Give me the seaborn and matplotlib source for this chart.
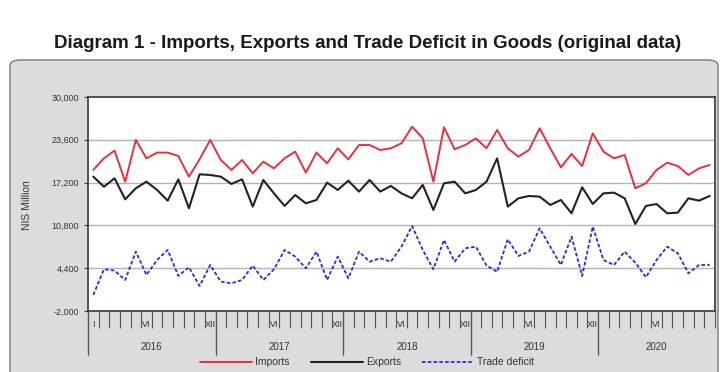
import numpy as np
import pandas as pd
import seaborn as sns
import matplotlib
matplotlib.use("Agg")
import matplotlib.pyplot as plt
from matplotlib.patches import FancyBboxPatch
from matplotlib.ticker import FuncFormatter
import matplotlib.transforms as mtransforms

# monthly data, Jan 2016 - Nov 2020 (NIS million)
imports = [19090, 20830, 21980, 17340, 23570, 20830, 21680, 21680, 21180, 18090, 20680, 23570,
           20580, 19090, 20580, 18590, 20330, 19330, 20830, 21830, 18690, 21680, 20080, 22330,
           20680, 22820, 22820, 22080, 22330, 23080, 25560, 23820, 17340, 25460, 22180, 22820,
           23820, 22330, 25070, 22330, 21080, 22080, 25320, 22330, 19480, 21480, 19680, 24570,
           21830, 20830, 21330, 16350, 17100, 19090, 20180, 19680, 18340, 19330, 19830]
exports = [18090, 16590, 17840, 14700, 16350, 17340, 16100, 14500, 17690, 13360, 18440, 18340,
           18090, 17000, 17690, 13610, 17590, 15590, 13710, 15350, 14100, 14600, 17200, 16100,
           17490, 15850, 17590, 15850, 16700, 15590, 14850, 16850, 13110, 17100, 17340, 15590,
           16100, 17340, 20830, 13610, 14850, 15200, 15100, 13860, 14600, 12610, 16500, 14000,
           15590, 15700, 14850, 11010, 13710, 14000, 12610, 12710, 14850, 14500, 15200]
deficit = [400, 4240, 4040, 2640, 6880, 3390, 5630, 7130, 3240, 4540, 1740, 4880,
           2390, 2140, 2640, 4800, 2640, 4240, 7130, 6130, 4390, 6880, 2640, 6130,
           2890, 6880, 5380, 5880, 5380, 7620, 10710, 7130, 4240, 8620, 5380, 7380,
           7620, 4800, 3850, 8720, 6230, 6880, 10370, 7620, 4880, 9120, 3240, 10620,
           5630, 4880, 6880, 5230, 3050, 5630, 7620, 6630, 3640, 4880, 4880]
years = ["2016", "2017", "2018", "2019", "2020"]
month_labels = {0: "I", 5: "VI", 11: "XII"}
y_ticks = [-2000, 4400, 10800, 17200, 23600, 30000]

df = pd.DataFrame({"month": np.arange(len(imports)), "Imports": imports,
                   "Exports": exports, "Trade deficit": deficit})

sns.set_style("white")
plt.rcParams['font.family'] = ['Liberation Sans', 'DejaVu Sans']

fig = plt.figure(figsize=(7.23, 3.72), dpi=100)

# grey rounded panel behind the chart
panel = FancyBboxPatch((10 / 723, -0.1), 708 / 723, 0.1 + (1 - 60 / 372),
                       boxstyle="round,pad=0,rounding_size=0.015",
                       transform=fig.transFigure, facecolor="#dcdcdc",
                       edgecolor="#8c8c8c", linewidth=1.2, zorder=-10)
fig.patches.append(panel)

fig.text(0.508, 1 - 43 / 372,
         "Diagram 1 - Imports, Exports and Trade Deficit in Goods (original data)",
         ha="center", va="center", fontsize=13.5, fontweight="bold", color="#1a1a1a")

ax = fig.add_axes([88 / 723, 1 - 311 / 372, 627 / 723, 214 / 372])
ax.set_facecolor("white")

sns.lineplot(data=df, x="month", y="Imports", ax=ax, color="#e8303c", linewidth=1.4, label="Imports")
sns.lineplot(data=df, x="month", y="Exports", ax=ax, color="#222222", linewidth=1.5, label="Exports")
sns.lineplot(data=df, x="month", y="Trade deficit", ax=ax, color="#2a2ae0", linewidth=1.3,
             linestyle=(0, (2, 1.2)), label="Trade deficit")

ax.set_xlim(-0.5, len(imports) - 0.5)
ax.set_ylim(-2000, 30000)
ax.set_yticks(y_ticks)
ax.yaxis.set_major_formatter(FuncFormatter(lambda v, _: f"{v:,.0f}"))
ax.tick_params(axis="y", labelsize=6.5, colors="#333333", length=3, width=0.8, direction="out", left=True)
for v in y_ticks[1:-1]:
    ax.axhline(v, color="#b4b4b4", linewidth=1.0, zorder=0)

# month boundaries: minor ticks short, year boundaries major ticks long
bounds = np.arange(-0.5, len(imports), 1.0)
year_bounds = [b for b in bounds if (b + 0.5) % 12 == 0]
ax.set_xticks(year_bounds)
ax.set_xticks([b for b in bounds if b not in year_bounds], minor=True)
ax.tick_params(axis="x", which="major", length=32, width=1.0, color="#555555", labelbottom=False, bottom=True)
ax.tick_params(axis="x", which="minor", length=12, width=0.8, color="#555555", bottom=True)
ax.set_xlabel("")
ax.set_ylabel("")

trans = mtransforms.blended_transform_factory(ax.transData, ax.transAxes)
for i in range(len(imports)):
    m = i % 12
    if (m in (5, 11)) or i == 0:
        ax.text(i, -0.062, month_labels[m], transform=trans, ha="center", va="center",
                fontsize=6.5, color="#333333")
for k, yr in enumerate(years):
    start = k * 12 - 0.5
    end = min(start + 12, len(imports) - 0.5)
    ax.text((start + end) / 2, -0.168, yr, transform=trans, ha="center", va="center",
            fontsize=7, color="#333333")

for s in ax.spines.values():
    s.set_color("#444444")
    s.set_linewidth(1.3)

fig.text(27 / 723, 1 - 205 / 372, "NIS Million", rotation=90, ha="center", va="center",
         fontsize=7.5, color="#333333")

leg = ax.legend(loc="center", bbox_to_anchor=(0.445, -0.24), ncol=3, frameon=False,
                fontsize=7.5, handlelength=5.0, handletextpad=0.3, columnspacing=2.0)
for t in leg.get_texts():
    t.set_color("#333333")

fig.savefig("out.png", dpi=100)
